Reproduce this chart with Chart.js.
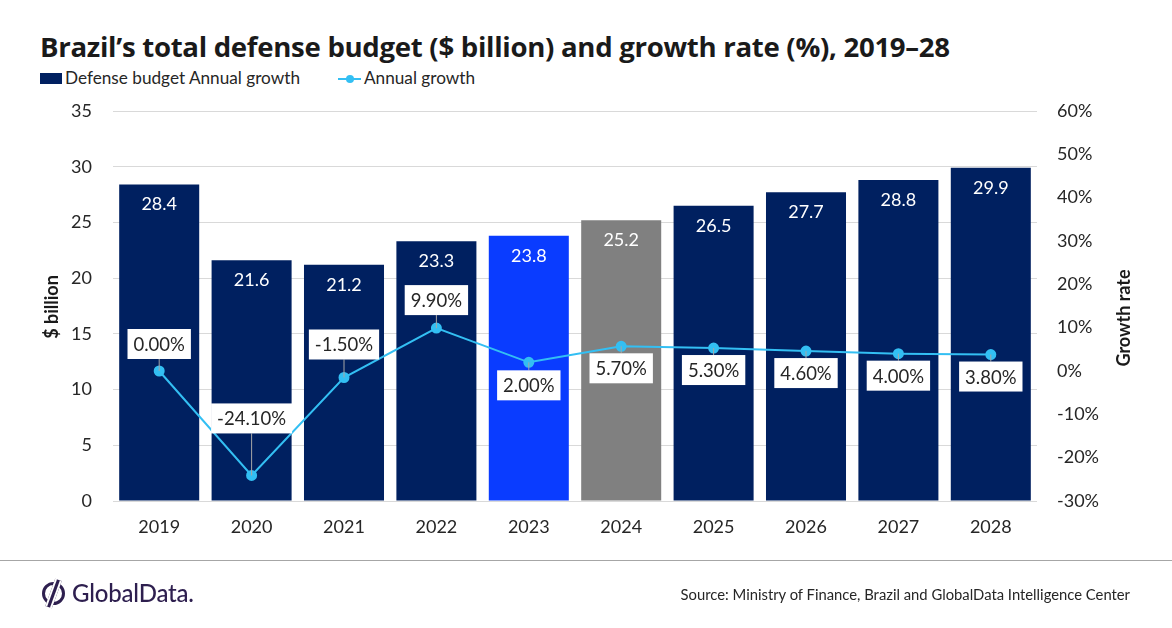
<!DOCTYPE html>
<html>
<head>
<meta charset="utf-8">
<script src="https://cdn.jsdelivr.net/npm/chart.js@4.4.1/dist/chart.umd.min.js"></script>
<style>
    html, body { margin: 0; padding: 0; background: #ffffff; }
    body { width: 1172px; height: 628px; position: relative; overflow: hidden; font-family: Lato, "Open Sans", sans-serif; }
    #chart-wrap { position: absolute; left: 0; top: 0; width: 1172px; height: 628px; }
    .title { position: absolute; left: 40px; top: 27px; font-family: "Open Sans", Lato, sans-serif; font-size: 27.6px; font-weight: 700; color: #1a1a1a; white-space: nowrap; letter-spacing: -0.3px; }
    .legend { position: absolute; top: 67px; font-size: 17.2px; color: #262626; white-space: nowrap; }
    .legend .swatch { display: inline-block; width: 22px; height: 11px; background: #002060; vertical-align: 0px; margin-right: 3px; }
    .legend .linekey { display: inline-block; position: relative; width: 23px; height: 11px; margin-right: 3px; vertical-align: 0; }
    .legend .linekey::before { content: ""; position: absolute; left: 0; right: 0; top: 5px; height: 2px; background: #33bff3; }
    .legend .linekey::after { content: ""; position: absolute; left: 8px; top: 2px; width: 8px; height: 8px; border-radius: 50%; background: #33bff3; }
    .footer-rule { position: absolute; left: 0; top: 560px; width: 1172px; height: 1px; background: #a6a6a6; }
    .logo { position: absolute; left: 42px; top: 578px; color: #2e1f4f; font-size: 24px; font-weight: 500; white-space: nowrap; letter-spacing: -0.2px; }
    .logo .icon { display: inline-block; width: 17px; height: 17px; border: 3px solid #2e1f4f; border-radius: 50%; vertical-align: -3px; margin-right: 7px; position: relative; }
    .logo .icon::after { content: ""; position: absolute; top: -6px; width: 3px; height: 29px; background: #2e1f4f; transform: rotate(20deg); border-left: 2px solid #fff; border-right: 2px solid #fff; left: 5px; }
    .source { position: absolute; right: 42px; top: 585px; font-size: 14.8px; color: #262626; white-space: nowrap; }
</style>
</head>
<body>
<div class="title">Brazil’s total defense budget ($ billion) and growth rate (%), 2019–28</div>
<div class="legend" style="left:40px;"><span class="swatch"></span>Defense budget Annual growth</div>
<div class="legend" style="left:338px;"><span class="linekey"></span>Annual growth</div>
<div id="chart-wrap"><canvas id="budget-chart"></canvas></div>
<div class="footer-rule"></div>
<div class="logo"><span class="icon"></span>GlobalData.</div>
<div class="source">Source: Ministry of Finance, Brazil and GlobalData Intelligence Center</div>

<script>
// Chart data
const years = ["2019", "2020", "2021", "2022", "2023", "2024", "2025", "2026", "2027", "2028"];
const budgetValues = [28.4, 21.6, 21.2, 23.3, 23.8, 25.2, 26.5, 27.7, 28.8, 29.9];
const growthValues = [0.0, -24.1, -1.5, 9.9, 2.0, 5.7, 5.3, 4.6, 4.0, 3.8];
const budgetTicks = [0, 5, 10, 15, 20, 25, 30, 35];
const growthTicks = [-30, -20, -10, 0, 10, 20, 30, 40, 50, 60];

const barColors = years.map(y => {
    if (y === "2023") return "#0a3cff";
    if (y === "2024") return "#808080";
    return "#002060";
});

// pixel offset of each growth label box from its point (negative = above)
const growthLabelOffsets = [-27, -57, -33, -28, 23, 22, 22, 22, 22, 22];

const tickFont = { family: "Lato, 'Open Sans', sans-serif", size: 18 };

// white value labels inside the top of each bar
const barLabelPlugin = {
    id: "barLabels",
    afterDatasetsDraw(chart) {
        const ctx = chart.ctx;
        const meta = chart.getDatasetMeta(1);
        ctx.save();
        ctx.font = "18px Lato, 'Open Sans', sans-serif";
        ctx.fillStyle = "#ffffff";
        ctx.textAlign = "center";
        ctx.textBaseline = "middle";
        meta.data.forEach((bar, i) => {
            ctx.fillText(budgetValues[i].toFixed(1), bar.x, bar.y + 20);
        });
        ctx.restore();
    }
};

// boxed growth labels with leader lines
const growthLabelPlugin = {
    id: "growthLabels",
    afterDraw(chart) {
        const ctx = chart.ctx;
        const meta = chart.getDatasetMeta(0);
        ctx.save();
        ctx.font = "18.5px Lato, 'Open Sans', sans-serif";
        ctx.textAlign = "center";
        ctx.textBaseline = "middle";
        meta.data.forEach((pt, i) => {
            const text = growthValues[i].toFixed(2) + "%";
            const w = ctx.measureText(text).width + 12;
            const h = 30;
            const cx = pt.x;
            const cy = pt.y + growthLabelOffsets[i];
            // leader line
            const edge = growthLabelOffsets[i] < 0 ? cy + h / 2 : cy - h / 2;
            if (Math.abs(pt.y - edge) > 6) {
                ctx.strokeStyle = "#a6a6a6";
                ctx.lineWidth = 1;
                ctx.beginPath();
                ctx.moveTo(cx, edge);
                ctx.lineTo(cx, pt.y);
                ctx.stroke();
            }
            ctx.fillStyle = "#ffffff";
            ctx.fillRect(cx - w / 2, cy - h / 2, w, h);
            ctx.fillStyle = "#262626";
            ctx.fillText(text, cx, cy + 1);
        });
        ctx.restore();
    }
};

// axis titles (right one reads bottom to top)
const axisTitlePlugin = {
    id: "axisTitles",
    afterDraw(chart) {
        const ctx = chart.ctx;
        ctx.save();
        ctx.font = "bold 18px Lato, 'Open Sans', sans-serif";
        ctx.fillStyle = "#1a1a1a";
        ctx.textAlign = "center";
        ctx.textBaseline = "middle";
        ctx.translate(52, 307);
        ctx.rotate(-Math.PI / 2);
        ctx.fillText("$ billion", 0, 0);
        ctx.restore();
        ctx.save();
        ctx.font = "bold 18px Lato, 'Open Sans', sans-serif";
        ctx.fillStyle = "#1a1a1a";
        ctx.textAlign = "center";
        ctx.textBaseline = "middle";
        ctx.translate(1124, 318);
        ctx.rotate(-Math.PI / 2);
        ctx.fillText("Growth rate", 0, 0);
        ctx.restore();
    }
};

const canvas = document.getElementById("budget-chart");
const ctx = canvas.getContext("2d");

new Chart(ctx, {
    data: {
        labels: years,
        datasets: [
            {
                type: "line",
                label: "Annual growth",
                data: growthValues,
                yAxisID: "yGrowth",
                borderColor: "#33bff3",
                backgroundColor: "#33bff3",
                borderWidth: 2,
                pointRadius: 4.5,
                pointHoverRadius: 4.5,
                tension: 0,
                order: 0
            },
            {
                type: "bar",
                label: "Defense budget Annual growth",
                data: budgetValues,
                yAxisID: "yBudget",
                backgroundColor: barColors,
                barPercentage: 0.866,
                categoryPercentage: 1.0,
                order: 1
            }
        ]
    },
    options: {
        responsive: true,
        maintainAspectRatio: false,
        animation: false,
        events: [],
        layout: { padding: { top: 111, left: 0, right: 0, bottom: 0 } },
        plugins: {
            legend: { display: false },
            tooltip: { enabled: false }
        },
        scales: {
            x: {
                grid: { display: false, drawTicks: false },
                border: { display: false },
                ticks: { color: "#262626", font: tickFont, padding: 15 },
                afterFit(scale) { scale.height = 127; }
            },
            yBudget: {
                position: "left",
                min: 0,
                max: 35,
                afterBuildTicks(scale) { scale.ticks = budgetTicks.map(v => ({ value: v })); },
                grid: { color: "#d9d9d9", lineWidth: 1, drawTicks: false },
                border: { display: false },
                ticks: { color: "#262626", font: tickFont, padding: 21 },
                afterFit(scale) { scale.width = 113; }
            },
            yGrowth: {
                position: "right",
                min: -30,
                max: 60,
                afterBuildTicks(scale) { scale.ticks = growthTicks.map(v => ({ value: v })); },
                grid: { display: false, drawTicks: false },
                border: { display: false },
                ticks: {
                    color: "#262626",
                    font: tickFont,
                    padding: 20,
                    callback: function(value) {
                        return value + "%";
                    }
                },
                afterFit(scale) { scale.width = 135; }
            }
        }
    },
    plugins: [barLabelPlugin, growthLabelPlugin, axisTitlePlugin]
});
</script>
</body>
</html>
